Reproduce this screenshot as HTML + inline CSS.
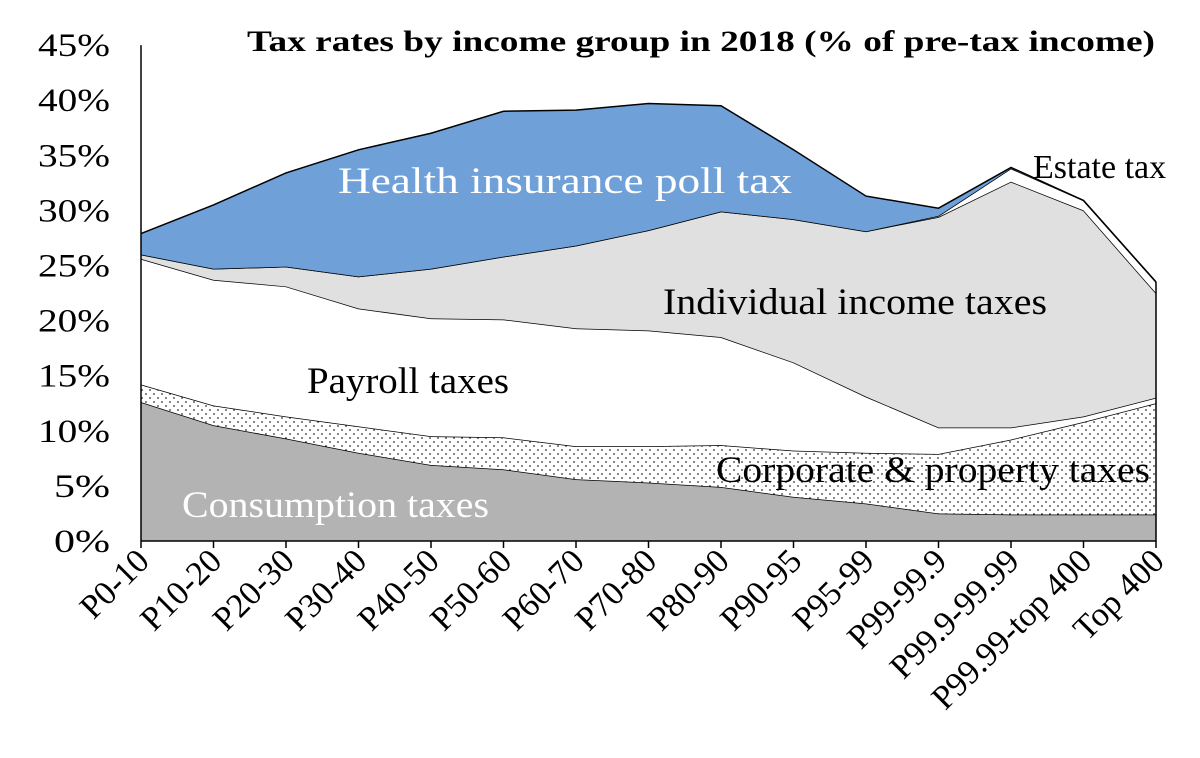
<!DOCTYPE html>
<html><head><meta charset="utf-8"><style>
body{margin:0;background:#fff}
svg text{font-family:"Liberation Serif",serif}
</style></head><body>
<svg id="chart" width="1200" height="753" viewBox="0 0 1200 753" xmlns="http://www.w3.org/2000/svg">
<defs><pattern id="dots" width="8" height="8" patternUnits="userSpaceOnUse"><rect width="8" height="8" fill="#fff"/><circle cx="2" cy="2" r="0.9" fill="#333"/><circle cx="6" cy="6" r="0.9" fill="#333"/></pattern></defs>
<g id="areas"></g><g id="axes"></g>
<text x="247" y="51" font-size="30" font-weight="bold" textLength="908" lengthAdjust="spacingAndGlyphs">Tax rates by income group in 2018 (% of pre-tax income)</text>
<text x="338" y="193" font-size="37" fill="#fff" textLength="454" lengthAdjust="spacingAndGlyphs">Health insurance poll tax</text>
<text x="1033" y="178" font-size="34">Estate tax</text>
<text x="663" y="314" font-size="37" textLength="384" lengthAdjust="spacingAndGlyphs">Individual income taxes</text>
<text x="307" y="393" font-size="37" textLength="202" lengthAdjust="spacingAndGlyphs">Payroll taxes</text>
<text x="716" y="482" font-size="37" textLength="434" lengthAdjust="spacingAndGlyphs">Corporate &amp; property taxes</text>
<text x="182" y="517" font-size="37" fill="#fff" textLength="307" lengthAdjust="spacingAndGlyphs">Consumption taxes</text>
</svg>
<script>
const categories=["P0-10","P10-20","P20-30","P30-40","P40-50","P50-60","P60-70","P70-80","P80-90","P90-95","P95-99","P99-99.9","P99.9-99.99","P99.99-top 400","Top 400"];
const consumption=[12.6,10.5,9.3,8.0,6.9,6.5,5.6,5.3,4.9,4.0,3.4,2.5,2.4,2.4,2.4];
const corporate=[1.6,1.8,2.0,2.4,2.6,2.9,3.0,3.3,3.8,4.2,4.6,5.4,6.8,8.4,10.1];
const payroll=[11.4,11.4,11.8,10.7,10.7,10.7,10.7,10.5,9.8,8.0,5.1,2.4,1.1,0.5,0.5];
const individual=[0.4,1.0,1.8,2.9,4.5,5.7,7.5,9.1,11.4,13.0,15.0,19.1,22.3,18.7,9.5];
const estate=[0,0,0,0,0,0,0,0,0,0,0,0.1,1.2,0.9,1.0];
const health=[1.9,5.8,8.5,11.5,12.3,13.2,12.3,11.5,9.6,6.3,3.2,0.7,0.1,0,0];
const yTicks=[0,5,10,15,20,25,30,35,40,45];
const X0=141,X1=1156,Y0=541,PPU=11.02;
const xs=i=>X0+i*(X1-X0)/(categories.length-1);
const ys=v=>Y0-v*PPU;
const NS="http://www.w3.org/2000/svg";
const areas=document.getElementById('areas'),axes=document.getElementById('axes');
const layers=[[consumption,'#b3b3b3','area-consumption'],[corporate,'url(#dots)','area-corporate'],[payroll,'#ffffff','area-payroll'],[individual,'#e0e0e0','area-individual'],[estate,'#ffffff','area-estate'],[health,'#6fa0d8','area-health']];
let base=categories.map(()=>0);
layers.forEach(([arr,fill,name])=>{
  const top=base.map((b,i)=>b+arr[i]);
  let d='M'+top.map((v,i)=>xs(i)+','+ys(v)).join('L');
  for(let i=base.length-1;i>=0;i--)d+='L'+xs(i)+','+ys(base[i]);
  d+='Z';
  const p=document.createElementNS(NS,'path');
  p.setAttribute('d',d);p.setAttribute('fill',fill);p.setAttribute('stroke','none');
  
  
  areas.appendChild(p);
  const l=document.createElementNS(NS,'polyline');
  l.setAttribute('points',top.map((v,i)=>xs(i)+','+ys(v)).join(' '));
  l.setAttribute('fill','none');l.setAttribute('stroke','#000');l.setAttribute('stroke-width','1.5');
  
  
  areas.appendChild(l);
  base=top;
});
const rl=document.createElementNS(NS,'line');
rl.setAttribute('x1',X1);rl.setAttribute('x2',X1);rl.setAttribute('y1',Y0);rl.setAttribute('y2',ys(base[base.length-1]));rl.setAttribute('stroke','#000');rl.setAttribute('stroke-width','1.5');


axes.appendChild(rl);
function line(x1,y1,x2,y2,name){const l=document.createElementNS(NS,'line');l.setAttribute('x1',x1);l.setAttribute('y1',y1);l.setAttribute('x2',x2);l.setAttribute('y2',y2);l.setAttribute('stroke','#000');l.setAttribute('stroke-width','1.5');


axes.appendChild(l);}
line(X0,Y0,X1,Y0,'x-axis');
line(X0,ys(45),X0,Y0,'y-axis');
yTicks.forEach(t=>{
  const tx=document.createElementNS(NS,'text');
  tx.setAttribute('x',X0-31);tx.setAttribute('y',ys(t)+11);tx.setAttribute('text-anchor','end');tx.setAttribute('font-size','33');
  tx.setAttribute('textLength',t>=10?72:56);tx.setAttribute('lengthAdjust','spacingAndGlyphs');
  tx.textContent=t+'%';
  
  
  axes.appendChild(tx);
});
categories.forEach((c,i)=>{
  line(xs(i),Y0,xs(i),Y0+7,'x-tick');
  const tx=document.createElementNS(NS,'text');
  const x=xs(i)+10,y=Y0+22;
  tx.setAttribute('x',x);tx.setAttribute('y',y);tx.setAttribute('text-anchor','end');tx.setAttribute('font-size','34');
  tx.setAttribute('transform','rotate(-45 '+x+' '+y+')');
  tx.textContent=c;
  
  
  axes.appendChild(tx);
});
</script>
</body></html>
